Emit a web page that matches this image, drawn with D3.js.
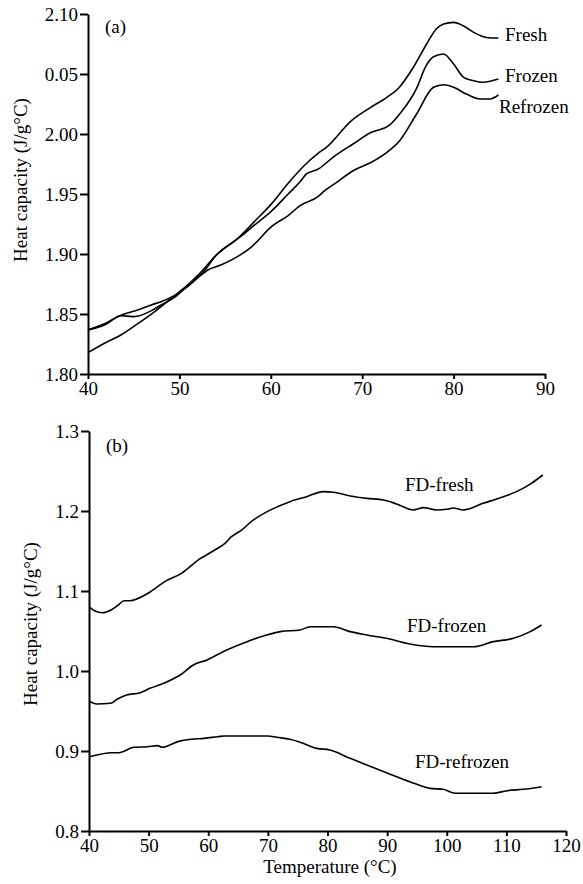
<!DOCTYPE html>
<html><head><meta charset="utf-8">
<script src="https://cdn.jsdelivr.net/npm/d3@7"></script>
<style>body{margin:0;background:#fff}svg{display:block}text{font-family:"Liberation Serif","Times New Roman",serif;fill:#000}</style>
</head><body><svg id="c" width="583" height="884"></svg>
<script>
// Panel (a) data: [temperature, heat capacity]
const freshA = [[40,1.8178],[41.8,1.8256],[43.6,1.8325],[45.5,1.8422],[47.3,1.852],[49.1,1.863],[50.9,1.874],[52.8,1.8867],[53.9,1.898],[56.4,1.913],[58.2,1.927],[60.1,1.942],[61.9,1.959],[63.7,1.974],[65.2,1.984],[66.1,1.989],[68.8,2.011],[70.9,2.022],[72.7,2.0306],[73.9,2.0375],[75.6,2.0556],[77.05,2.075],[78.1,2.0875],[78.9,2.0917],[80.0,2.093],[81.1,2.090],[82.2,2.0847],[83.25,2.0811],[84.2,2.080],[84.9,2.080]];
const frozenA = [[40,1.8367],[41.8,1.8408],[43.6,1.8486],[44.9,1.8478],[45.5,1.8483],[47.0,1.853],[48.0,1.8575],[49.5,1.864],[50.9,1.874],[52.5,1.886],[53.9,1.898],[57.1,1.917],[58.2,1.924],[60.1,1.936],[61.9,1.950],[63.3,1.961],[63.9,1.9667],[65.2,1.9708],[66.8,1.9806],[69.0,1.9917],[71.0,2.0014],[72.9,2.0069],[74.1,2.0167],[76.0,2.0389],[76.9,2.0556],[77.8,2.0644],[78.9,2.0667],[80.0,2.0583],[81.1,2.0472],[82.2,2.0444],[83.25,2.0431],[84.2,2.0444],[84.9,2.0458]];
const refrozenA = [[40,1.8367],[41.8,1.8418],[43.6,1.849],[45.5,1.8535],[47.0,1.8578],[48.0,1.8603],[49.5,1.8655],[50.9,1.8728],[52.0,1.880],[53.1,1.8867],[54.6,1.891],[56.4,1.898],[57.9,1.906],[60.1,1.923],[61.9,1.932],[63.2,1.9403],[65.2,1.948],[65.9,1.9528],[67.2,1.9597],[69.0,1.9694],[71.0,1.9764],[72.7,1.9847],[74.1,1.9944],[75.95,2.0167],[77.8,2.0389],[78.9,2.0411],[80.0,2.0389],[81.4,2.0333],[82.9,2.0292],[84.0,2.0292],[84.9,2.0325]];
const labelsA = ["Fresh","Frozen","Refrozen"];
const xTicksA = [40,50,60,70,80,90];
const yTicksA = [1.80,1.85,1.90,1.95,2.00,2.05,2.10];
const yTickTextA = ["1.80","1.85","1.90","1.95","2.00","0.05","2.10"];

// Panel (b) data
const fdFresh = [[40,1.0804],[40.9,1.0754],[42.3,1.0729],[43.7,1.0763],[44.9,1.0825],[45.9,1.0879],[46.8,1.0879],[49.9,1.0971],[52.7,1.1117],[55.5,1.1221],[58.3,1.1387],[61.1,1.1512],[62.8,1.1596],[63.9,1.1679],[65.6,1.1762],[67.2,1.1867],[70.2,1.2005],[73.7,1.2117],[76.5,1.2179],[79.3,1.2242],[81.0,1.2234],[83.8,1.2188],[86.6,1.2158],[89.4,1.2138],[91.6,1.2088],[94.4,1.2013],[96.1,1.2042],[98.3,1.2013],[100.0,1.2021],[101.1,1.2038],[102.8,1.2013],[106.1,1.2096],[109.5,1.2179],[111.7,1.2242],[114.2,1.2346],[116.1,1.245]];
const fdFrozen = [[40,0.9625],[41.3,0.9588],[43.6,0.9596],[44.7,0.9646],[46.3,0.970],[48.6,0.9729],[50.2,0.9783],[52.5,0.9846],[55.3,0.995],[57.5,1.0075],[59.8,1.0138],[63.1,1.0263],[66.5,1.0367],[69.8,1.045],[72.1,1.0492],[75.4,1.0513],[77.1,1.0554],[81.0,1.0554],[83.8,1.0492],[86.6,1.045],[89.9,1.0409],[93.8,1.0338],[97.8,1.0304],[100.5,1.0304],[104.5,1.0304],[107.8,1.0367],[111.2,1.0409],[114.0,1.0492],[115.9,1.0575]];
const fdRefrozen = [[40,0.8929],[41.3,0.895],[43.6,0.8979],[45.0,0.8979],[47.5,0.9046],[49.8,0.9054],[51.5,0.9067],[52.3,0.9046],[54.9,0.9117],[57.1,0.9146],[59.3,0.9158],[61.6,0.9179],[62.7,0.9188],[70.0,0.9188],[71.5,0.9171],[73.7,0.9146],[75.4,0.9110],[78.2,0.9033],[80.4,0.9013],[83.8,0.8908],[86.6,0.8825],[89.9,0.8729],[93.8,0.8617],[97.2,0.8533],[99.4,0.8521],[101.4,0.8471],[107.8,0.8471],[110.1,0.8504],[112.8,0.8521],[115.9,0.8554]];
const labelsB = ["FD-fresh","FD-frozen","FD-refrozen"];
const xTicksB = [40,50,60,70,80,90,100,110,120];
const yTicksB = [0.8,0.9,1.0,1.1,1.2,1.3];

const yTitle = "Heat capacity (J/g°C)";
const xTitle = "Temperature (°C)";

const svg = d3.select("#c");
const FS = 19;

function axes(g, x, y, xt, yt, ytText, xFmt, yFmt) {
  const xa = g.append("g").attr("transform", `translate(0,${y.range()[0]})`)
    .call(d3.axisBottom(x).tickValues(xt).tickSize(5).tickPadding(3).tickSizeOuter(0).tickFormat(xFmt));
  const ya = g.append("g").attr("transform", `translate(${x.range()[0]},0)`)
    .call(d3.axisLeft(y).tickValues(yt).tickSize(8).tickPadding(2).tickSizeOuter(0)
      .tickFormat((d,i) => ytText ? ytText[i] : yFmt(d)));
  [xa, ya].forEach(a => {
    a.select(".domain").attr("stroke", "#000").attr("stroke-width", 2);
    a.selectAll(".tick line").attr("stroke", "#000").attr("stroke-width", 2);
    a.selectAll("text").attr("font-size", FS).attr("font-family", "Liberation Serif").attr("fill", "#000");
  });
}

// Panel (a)
const xA = d3.scaleLinear().domain([40, 90]).range([88, 545]);
const yA = d3.scaleLinear().domain([1.80, 2.10]).range([374, 14]);
const gA = svg.append("g");
axes(gA, xA, yA, xTicksA, yTicksA, yTickTextA, d3.format("d"));
const lineA = d3.line().x(d => xA(d[0])).y(d => yA(d[1])).curve(d3.curveMonotoneX);
[freshA, frozenA, refrozenA].forEach(s => gA.append("path").datum(s)
  .attr("d", lineA).attr("fill", "none").attr("stroke", "#000").attr("stroke-width", 1.6));
const labPosA = [[505, 41], [505, 82], [499, 113]];
labelsA.forEach((t, i) => gA.append("text").attr("x", labPosA[i][0]).attr("y", labPosA[i][1])
  .attr("font-size", FS).text(t));
gA.append("text").attr("x", 105).attr("y", 33).attr("font-size", FS).text("(a)");
gA.append("text").attr("transform", "translate(27,180) rotate(-90)").attr("text-anchor", "middle")
  .attr("font-size", FS).text(yTitle);

// Panel (b)
const xB = d3.scaleLinear().domain([40, 120]).range([89, 566]);
const yB = d3.scaleLinear().domain([0.8, 1.3]).range([831, 431]);
const gB = svg.append("g");
axes(gB, xB, yB, xTicksB, yTicksB, null, d3.format("d"), d3.format(".1f"));
const lineB = d3.line().x(d => xB(d[0])).y(d => yB(d[1])).curve(d3.curveMonotoneX);
[fdFresh, fdFrozen, fdRefrozen].forEach(s => gB.append("path").datum(s)
  .attr("d", lineB).attr("fill", "none").attr("stroke", "#000").attr("stroke-width", 1.6));
const labPosB = [[405, 491], [407, 632], [415, 768]];
labelsB.forEach((t, i) => gB.append("text").attr("x", labPosB[i][0]).attr("y", labPosB[i][1])
  .attr("font-size", FS).text(t));
gB.append("text").attr("x", 106).attr("y", 452).attr("font-size", FS).text("(b)");
gB.append("text").attr("transform", "translate(37,624) rotate(-90)").attr("text-anchor", "middle")
  .attr("font-size", FS).text(yTitle);
gB.append("text").attr("x", 330).attr("y", 873).attr("text-anchor", "middle")
  .attr("font-size", FS).text(xTitle);
</script></body></html>
